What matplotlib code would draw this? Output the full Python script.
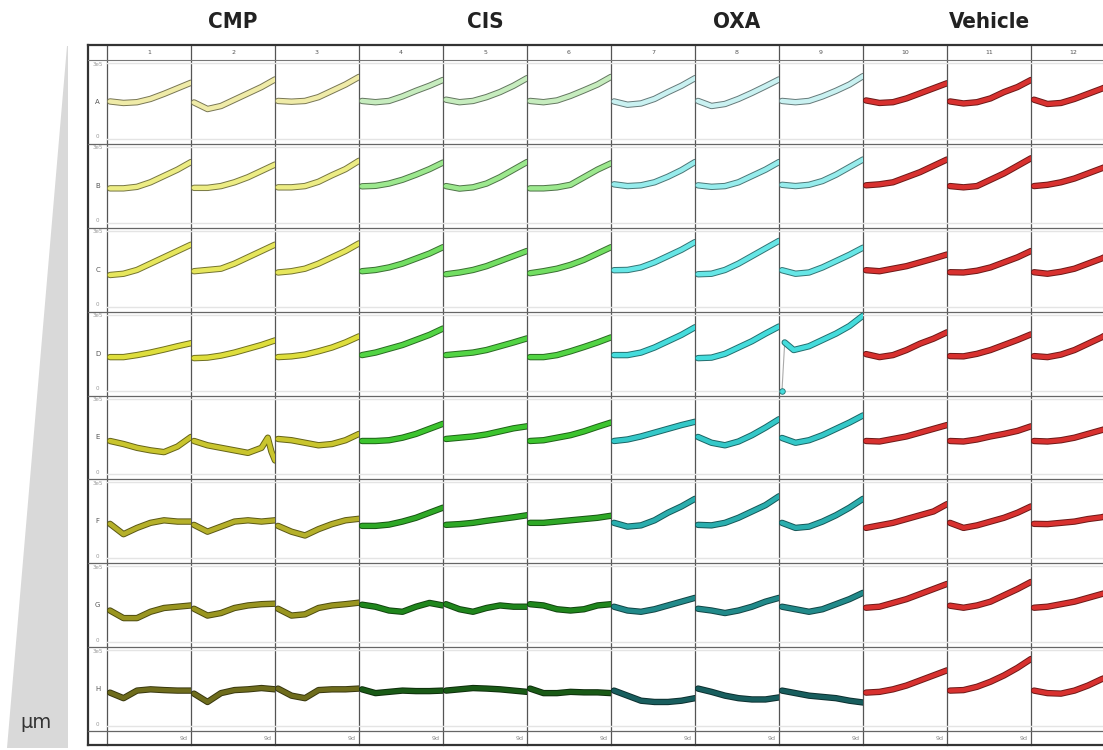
import numpy as np
import matplotlib
matplotlib.use("Agg")
import matplotlib.pyplot as plt
import matplotlib.patheffects as pe
from matplotlib.colors import to_rgb

# Datos (unidades de 1e5), dias de lectura
days = [0, 1.5, 3, 4.5, 6, 7.5, 9]
row_names = list("ABCDEFGH")
col_labels = [str(i) for i in range(1, 13)]
groups = ["CMP", "CIS", "OXA", "Vehicle"]

row_A = [[1.48, 1.42, 1.45, 1.58, 1.78, 2.0, 2.22], [1.44, 1.18, 1.3, 1.55, 1.8, 2.05, 2.35],
         [1.5, 1.47, 1.5, 1.65, 1.9, 2.15, 2.45], [1.5, 1.45, 1.5, 1.68, 1.9, 2.1, 2.33],
         [1.55, 1.45, 1.5, 1.65, 1.85, 2.1, 2.4], [1.5, 1.45, 1.52, 1.7, 1.92, 2.15, 2.45],
         [1.48, 1.35, 1.4, 1.58, 1.85, 2.1, 2.4], [1.5, 1.3, 1.38, 1.58, 1.82, 2.08, 2.35],
         [1.5, 1.45, 1.5, 1.68, 1.9, 2.15, 2.48], [1.52, 1.42, 1.45, 1.6, 1.8, 2.0, 2.2],
         [1.48, 1.4, 1.45, 1.6, 1.85, 2.05, 2.33], [1.55, 1.38, 1.42, 1.58, 1.78, 1.98, 2.2]]
row_B = [[1.36, 1.36, 1.42, 1.6, 1.85, 2.1, 2.4], [1.38, 1.38, 1.45, 1.6, 1.8, 2.05, 2.3],
         [1.4, 1.4, 1.45, 1.62, 1.88, 2.12, 2.45], [1.44, 1.46, 1.55, 1.7, 1.9, 2.12, 2.38],
         [1.45, 1.35, 1.4, 1.55, 1.8, 2.1, 2.4], [1.36, 1.36, 1.4, 1.5, 1.8, 2.1, 2.35],
         [1.52, 1.45, 1.48, 1.6, 1.82, 2.08, 2.4], [1.48, 1.42, 1.45, 1.6, 1.85, 2.1, 2.4],
         [1.5, 1.45, 1.5, 1.65, 1.9, 2.2, 2.5], [1.48, 1.52, 1.6, 1.8, 2.0, 2.25, 2.5],
         [1.45, 1.4, 1.45, 1.7, 1.95, 2.25, 2.55], [1.45, 1.5, 1.6, 1.75, 1.95, 2.15, 2.35]]
row_C = [[1.25, 1.3, 1.45, 1.7, 1.95, 2.2, 2.45], [1.4, 1.45, 1.5, 1.7, 1.95, 2.2, 2.45],
         [1.35, 1.4, 1.5, 1.7, 1.95, 2.2, 2.5], [1.4, 1.45, 1.55, 1.7, 1.9, 2.1, 2.35],
         [1.28, 1.35, 1.45, 1.6, 1.8, 2.0, 2.2], [1.32, 1.4, 1.5, 1.65, 1.85, 2.1, 2.35],
         [1.44, 1.45, 1.55, 1.75, 2.0, 2.25, 2.55], [1.28, 1.3, 1.45, 1.7, 2.0, 2.3, 2.6],
         [1.44, 1.3, 1.35, 1.55, 1.8, 2.05, 2.33], [1.44, 1.4, 1.5, 1.6, 1.75, 1.9, 2.06],
         [1.36, 1.35, 1.42, 1.55, 1.75, 1.95, 2.2], [1.36, 1.3, 1.38, 1.5, 1.7, 1.9, 2.15]]
row_D = [[1.32, 1.32, 1.4, 1.5, 1.62, 1.75, 1.87], [1.28, 1.3, 1.38, 1.5, 1.65, 1.8, 1.98],
         [1.32, 1.35, 1.42, 1.55, 1.7, 1.9, 2.14], [1.4, 1.5, 1.65, 1.8, 2.0, 2.2, 2.45],
         [1.4, 1.45, 1.5, 1.6, 1.75, 1.9, 2.06], [1.32, 1.32, 1.4, 1.55, 1.72, 1.9, 2.1],
         [1.4, 1.4, 1.5, 1.7, 1.95, 2.2, 2.5], [1.28, 1.3, 1.45, 1.7, 1.95, 2.25, 2.53],
         None, [1.44, 1.32, 1.4, 1.6, 1.85, 2.05, 2.3],
         [1.36, 1.35, 1.45, 1.6, 1.8, 2.0, 2.22], [1.36, 1.32, 1.42, 1.6, 1.85, 2.1, 2.4]]
row_E = [[1.32, 1.2, 1.05, 0.95, 0.88, 1.1, 1.48], None,
         [1.4, 1.35, 1.25, 1.15, 1.2, 1.35, 1.6], [1.32, 1.32, 1.35, 1.45, 1.6, 1.8, 2.0],
         [1.4, 1.45, 1.5, 1.58, 1.7, 1.82, 1.9], [1.32, 1.35, 1.45, 1.55, 1.7, 1.88, 2.05],
         [1.32, 1.38, 1.5, 1.65, 1.8, 1.95, 2.08], [1.48, 1.25, 1.15, 1.3, 1.55, 1.85, 2.18],
         [1.44, 1.25, 1.35, 1.55, 1.8, 2.05, 2.33], [1.32, 1.3, 1.4, 1.5, 1.65, 1.8, 1.95],
         [1.32, 1.3, 1.38, 1.5, 1.6, 1.72, 1.9], [1.32, 1.3, 1.35, 1.45, 1.6, 1.75, 1.9]]
row_F = [[1.36, 0.95, 1.2, 1.4, 1.5, 1.45, 1.45], [1.32, 1.05, 1.25, 1.45, 1.5, 1.45, 1.5],
         [1.28, 1.05, 0.9, 1.15, 1.35, 1.5, 1.56], [1.28, 1.28, 1.33, 1.45, 1.6, 1.8, 2.0],
         [1.32, 1.35, 1.4, 1.48, 1.55, 1.62, 1.7], [1.4, 1.4, 1.45, 1.5, 1.55, 1.6, 1.68],
         [1.4, 1.25, 1.3, 1.5, 1.8, 2.05, 2.35], [1.32, 1.3, 1.4, 1.6, 1.85, 2.1, 2.45],
         [1.4, 1.2, 1.25, 1.45, 1.7, 2.0, 2.35], [1.2, 1.3, 1.4, 1.55, 1.7, 1.85, 2.14],
         [1.4, 1.2, 1.3, 1.45, 1.6, 1.8, 2.05], [1.36, 1.35, 1.4, 1.45, 1.55, 1.62, 1.75]]
row_G = [[1.25, 0.95, 0.95, 1.2, 1.35, 1.4, 1.45], [1.32, 1.05, 1.15, 1.35, 1.45, 1.5, 1.52],
         [1.32, 1.05, 1.1, 1.35, 1.45, 1.5, 1.56], [1.48, 1.4, 1.25, 1.2, 1.4, 1.55, 1.45],
         [1.5, 1.3, 1.2, 1.35, 1.45, 1.4, 1.4], [1.5, 1.45, 1.3, 1.25, 1.3, 1.45, 1.5],
         [1.4, 1.25, 1.2, 1.3, 1.45, 1.6, 1.75], [1.32, 1.25, 1.15, 1.25, 1.4, 1.6, 1.75],
         [1.4, 1.3, 1.2, 1.3, 1.5, 1.7, 1.95], [1.36, 1.4, 1.55, 1.7, 1.9, 2.1, 2.3],
         [1.44, 1.36, 1.45, 1.6, 1.85, 2.1, 2.38], [1.36, 1.4, 1.5, 1.6, 1.75, 1.9, 2.05]]
row_H = [[1.32, 1.1, 1.4, 1.45, 1.42, 1.4, 1.4], [1.28, 0.95, 1.3, 1.42, 1.45, 1.5, 1.45],
         [1.48, 1.2, 1.1, 1.42, 1.45, 1.45, 1.48], [1.45, 1.3, 1.35, 1.4, 1.38, 1.38, 1.4],
         [1.4, 1.45, 1.5, 1.48, 1.45, 1.4, 1.35], [1.48, 1.3, 1.3, 1.35, 1.33, 1.33, 1.3],
         [1.4, 1.2, 1.0, 0.95, 0.95, 1.0, 1.1], [1.48, 1.35, 1.2, 1.1, 1.05, 1.05, 1.13],
         [1.4, 1.3, 1.2, 1.15, 1.1, 1.0, 0.93], [1.32, 1.35, 1.45, 1.6, 1.8, 2.0, 2.2],
         [1.4, 1.42, 1.55, 1.75, 2.0, 2.3, 2.65], [1.4, 1.3, 1.28, 1.4, 1.6, 1.85, 2.05]]

# Pozos con lecturas irregulares
d9_days = [0, 0.3, 1.3, 3, 4.5, 6, 7.5, 9]
d9_vals = [0.0, 1.9, 1.6, 1.75, 2.0, 2.25, 2.55, 2.96]
e2_days = [0, 1.5, 3, 4.5, 6, 7.5, 8.2, 8.6, 9]
e2_vals = [1.32, 1.15, 1.05, 0.95, 0.85, 1.05, 1.45, 0.9, 0.55]

plate = [row_A, row_B, row_C, row_D, row_E, row_F, row_G, row_H]

# Colores por grupo y fila
yellow = ['#efeba8', '#ecec84', '#e6e65c', '#dede3c', '#c9c52e', '#b5b02a', '#999520', '#6e6c1c']
green = ['#c6ecbe', '#9ce88e', '#72de62', '#52d444', '#3cc42e', '#2ea826', '#1f861c', '#195a16']
cyan = ['#c9f1f1', '#96ecec', '#66e6e6', '#44dcdc', '#34c8c8', '#2aaeae', '#218a8a', '#185e5e']
red = '#d8312f'


def well_color(r, c):
    if c < 3:
        return yellow[r]
    if c < 6:
        return green[r]
    if c < 9:
        return cyan[r]
    return red


def darker(col, f=0.5):
    return tuple(v * f for v in to_rgb(col))


# ========================
# Figura
# ========================
W, H = 1103, 750
fig = plt.figure(figsize=(W / 100, H / 100), dpi=100)

bg = fig.add_axes([0, 0, 1, 1])
bg.set_xlim(0, W)
bg.set_ylim(H, 0)
bg.axis('off')

# Cuna gris
bg.fill([67, 68, 68, 7], [46, 46, 748, 748], color='#d9d9d9', lw=0)
bg.text(36, 722, 'μm', ha='center', va='center', fontsize=14, color='#333333')

# Geometria de la placa
x0, xl, cw = 88, 107, 84
y0, yh, y_end, y_ft = 45, 60, 731, 745
rh = (y_end - yh) / 8
x_right = xl + cw * 12

for k in range(13):
    x = xl + cw * k
    bg.plot([x, x], [y0, y_ft], color='#555555', lw=0.9)
bg.plot([x0, x0], [y0, y_ft], color='#333333', lw=1.6)
bg.plot([x0, x_right], [y0, y0], color='#333333', lw=1.6)
bg.plot([x0, x_right], [y_ft, y_ft], color='#333333', lw=1.6)
bg.plot([x0, x_right], [yh, yh], color='#777777', lw=0.8)
for i in range(1, 9):
    y = yh + rh * i
    bg.plot([x0, x_right], [y, y], color='#666666', lw=0.9)

for k, lab in enumerate(col_labels):
    bg.text(xl + cw * (k + 0.5), (y0 + yh) / 2, lab, ha='center', va='center',
            fontsize=4.5, color='#555555')
    if k < 11:  # la ultima columna queda cortada
        bg.text(xl + cw * (k + 1) - 3, (y_end + y_ft) / 2, '9d', ha='right', va='center',
                fontsize=4.5, color='#888888')

for i, rn in enumerate(row_names):
    top = yh + rh * i
    bg.text((x0 + xl) / 2, top + rh / 2, rn, ha='center', va='center', fontsize=5, color='#555555')
    bg.text((x0 + xl) / 2, top + 4, '3e5', ha='center', va='center', fontsize=4, color='#999999')
    bg.text((x0 + xl) / 2, top + rh - 7, '0', ha='center', va='center', fontsize=4, color='#999999')

for g, name in enumerate(groups):
    bg.text(xl + cw * (3 * g + 1.5), 22, name, ha='center', va='center', fontsize=16,
            fontweight='bold', fontstretch='condensed', color='#222222', family='DejaVu Sans')

# Celdas con las curvas
px_unit = (rh - 8) / 3.0
for i in range(8):
    top = yh + rh * i
    for c in range(12):
        left = xl + cw * c
        ax = fig.add_axes([left / W, 1 - (top + rh) / H, cw / W, rh / H])
        ax.patch.set_alpha(0)
        ax.axis('off')
        ax.set_xlim(-1 / 3, 9)
        ax.set_ylim(-5 / px_unit, 3 + 3 / px_unit)
        ax.axhline(0, color='#e4e4e4', lw=1.0)
        ax.axhline(3, color='#e4e4e4', lw=1.0)

        col = well_color(i, c)
        edge = darker(col)
        effects = [pe.Stroke(linewidth=4.6, foreground=edge), pe.Normal()]

        if i == 3 and c == 8:
            ax.plot(d9_days[:2], d9_vals[:2], color='#aaaaaa', lw=0.8)
            ax.plot(d9_days[0], d9_vals[0], 'o', ms=4, mfc=col, mec=edge, mew=0.6)
            ax.plot(d9_days[1:], d9_vals[1:], color=col, lw=3.2,
                    solid_capstyle='round', path_effects=effects)
            continue
        if i == 4 and c == 1:
            xs, ys = e2_days, e2_vals
        else:
            xs, ys = days, plate[i][c]
        ax.plot(xs, ys, color=col, lw=3.2, solid_capstyle='round',
                solid_joinstyle='round', path_effects=effects)

fig.savefig('out.png', dpi=100)
